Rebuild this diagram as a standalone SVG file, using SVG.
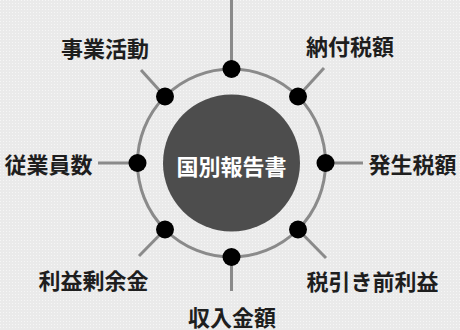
<svg xmlns="http://www.w3.org/2000/svg" width="460" height="330" viewBox="0 0 460 330">
<defs>
<style>
.lbl{font-family:"Noto Sans CJK JP","Noto Sans CJK SC",sans-serif;font-size:22px;font-weight:bold;fill:#1e1e1e;text-anchor:middle;dominant-baseline:central}
.spoke{stroke:#8a8a8a;stroke-width:3;fill:none}
.dot{fill:#000}
</style>
<pattern id="bgdots" width="3" height="3" patternUnits="userSpaceOnUse">
<rect width="3" height="3" fill="#eaeaea"/>
<rect width="1" height="1" fill="#f6f6f6"/>
</pattern>
</defs>
<rect width="460" height="330" fill="url(#bgdots)"/>
<g id="connectors">
<circle cx="231.5" cy="163" r="94" class="spoke" stroke-width="3.5"/>
<line class="spoke" x1="231.5" y1="69" x2="231.5" y2="0"/>
<line class="spoke" x1="231.5" y1="257" x2="231.5" y2="291"/>
<line class="spoke" x1="137.5" y1="163" x2="98" y2="163"/>
<line class="spoke" x1="325.5" y1="163" x2="363" y2="163"/>
<line class="spoke" x1="165" y1="96.5" x2="141" y2="70"/>
<line class="spoke" x1="298" y1="96.5" x2="324" y2="68"/>
<line class="spoke" x1="165" y1="229.5" x2="139" y2="256"/>
<line class="spoke" x1="298" y1="229.5" x2="326" y2="258"/>
</g>
<g id="center">
<circle cx="231.5" cy="163" r="68.5" fill="#4d4d4d"/>
<text class="lbl" x="231.5" y="165" style="fill:#fff">国別報告書</text>
</g>
<g id="n-top"><circle class="dot" cx="231.5" cy="69" r="9"/></g>
<g id="n-bottom"><circle class="dot" cx="231.5" cy="257" r="9"/><text class="lbl" x="232" y="315.5">収入金額</text></g>
<g id="n-left"><circle class="dot" cx="137.5" cy="163" r="9"/><text class="lbl" x="48.5" y="163">従業員数</text></g>
<g id="n-right"><circle class="dot" cx="325.5" cy="163" r="9"/><text class="lbl" x="412.5" y="163">発生税額</text></g>
<g id="n-ul"><circle class="dot" cx="165" cy="96.5" r="9"/><text class="lbl" x="105" y="47">事業活動</text></g>
<g id="n-ur"><circle class="dot" cx="298" cy="96.5" r="9"/><text class="lbl" x="350" y="45">納付税額</text></g>
<g id="n-ll"><circle class="dot" cx="165" cy="229.5" r="9"/><text class="lbl" x="93.5" y="279">利益剰余金</text></g>
<g id="n-lr"><circle class="dot" cx="298" cy="229.5" r="9"/><text class="lbl" x="372.5" y="280">税引き前利益</text></g>
</svg>
